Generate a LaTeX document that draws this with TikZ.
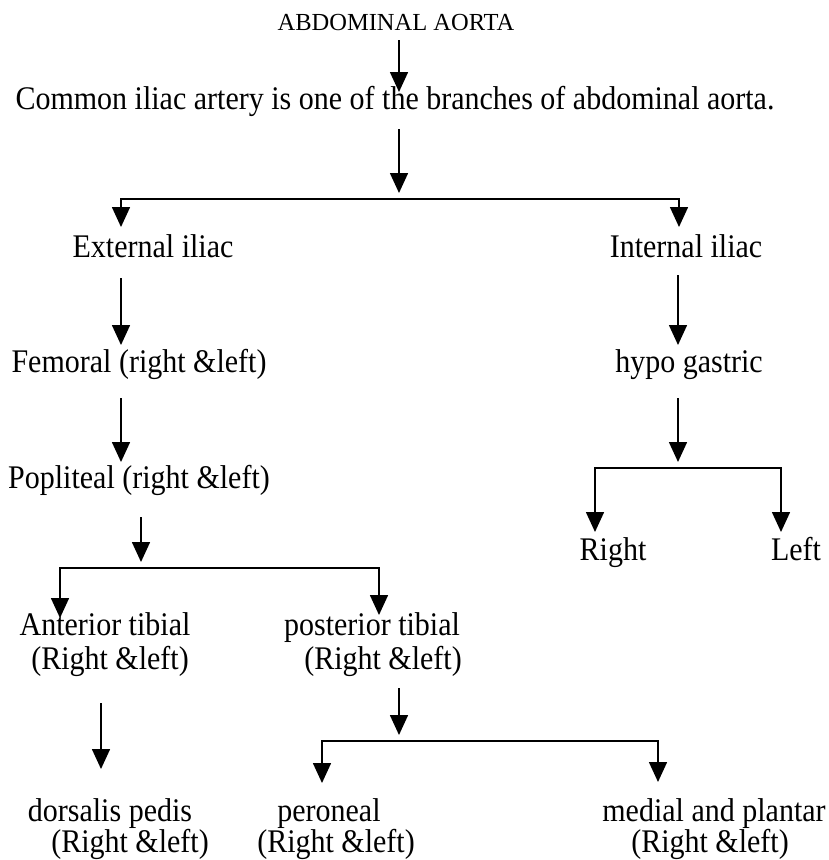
\documentclass[tikz,border=0pt]{standalone}
\usepackage{fontspec}
\setmainfont{Liberation Serif}
\usetikzlibrary{arrows.meta}

\begin{document}
\begin{tikzpicture}[x=1pt,y=-1pt,
    head/.style={anchor=base,inner sep=0pt,font=\fontsize{24.5}{28}\selectfont},
    lbl/.style={anchor=base,inner sep=0pt,font=\fontsize{30}{34}\selectfont,yscale=1.1},
    arr/.style={line width=1.6pt,-{Triangle[width=18pt,length=20pt]}},
    tofork/.style={arr,shorten >=6pt},
    fork/.style={line width=1.6pt,{Triangle[width=18pt,length=20pt]}-{Triangle[width=18pt,length=20pt]}}]
  \useasboundingbox (0,0) rectangle (829,860);

  % labels
  \node[head] (aorta) at (396,30) {ABDOMINAL AORTA};
  \node[lbl] (common) at (395,109) {Common iliac artery is one of the branches of abdominal aorta.};
  \node[lbl] (ext) at (153,257) {External iliac};
  \node[lbl] (int) at (686,257) {Internal iliac};
  \node[lbl] (fem) at (139,372) {Femoral (right \&left)};
  \node[lbl] (hypo) at (689,372) {hypo gastric};
  \node[lbl] (pop) at (139,488) {Popliteal (right \&left)};
  \node[lbl] (right) at (613,560) {Right};
  \node[lbl] (left) at (796,560) {Left};
  \node[lbl] (ant) at (105,635) {Anterior tibial};
  \node[lbl] (ant-rl) at (110,669) {(Right \&left)};
  \node[lbl] (post) at (372,635) {posterior tibial};
  \node[lbl] (post-rl) at (383,669) {(Right \&left)};
  \node[lbl] (dors) at (110,821) {dorsalis pedis};
  \node[lbl] (dors-rl) at (130,852) {(Right \&left)};
  \node[lbl] (per) at (329,821) {peroneal};
  \node[lbl] (per-rl) at (336,852) {(Right \&left)};
  \node[lbl] (med) at (714,821) {medial and plantar};
  \node[lbl] (med-rl) at (710,852) {(Right \&left)};

  % arrow ends and fork points
  \coordinate (aorta-out) at (399,40);
  \coordinate (common-in) at (399,92);
  \coordinate (common-out) at (399,129);
  \coordinate (iliac-fork) at (399,199);
  \coordinate (ext-in) at (121,227);
  \coordinate (int-in) at (679,227);
  \coordinate (ext-out) at (121,278);
  \coordinate (fem-in) at (121,345);
  \coordinate (int-out) at (678,275);
  \coordinate (hypo-in) at (678,345);
  \coordinate (fem-out) at (121,398);
  \coordinate (pop-in) at (121,462);
  \coordinate (hypo-out) at (678,398);
  \coordinate (hypo-fork) at (678,468);
  \coordinate (right-in) at (595,532);
  \coordinate (left-in) at (781,532);
  \coordinate (pop-out) at (141,517);
  \coordinate (pop-fork) at (141,568);
  \coordinate (ant-in) at (60,618);
  \coordinate (post-in) at (379,615);
  \coordinate (ant-out) at (101,703);
  \coordinate (dors-in) at (101,769);
  \coordinate (post-out) at (399,688);
  \coordinate (post-fork) at (399,741);
  \coordinate (per-in) at (322,783);
  \coordinate (med-in) at (658,782);

  % straight links
  \draw[arr] (aorta-out) -- (common-in);
  \draw[arr] (ext-out) -- (fem-in);
  \draw[arr] (int-out) -- (hypo-in);
  \draw[arr] (fem-out) -- (pop-in);
  \draw[arr] (ant-out) -- (dors-in);

  % links into the forks
  \draw[tofork] (common-out) -- (iliac-fork);
  \draw[tofork] (hypo-out) -- (hypo-fork);
  \draw[tofork] (pop-out) -- (pop-fork);
  \draw[tofork] (post-out) -- (post-fork);

  % the forks
  \draw[fork] (ext-in) |- (iliac-fork) -| (int-in);
  \draw[fork] (right-in) |- (hypo-fork) -| (left-in);
  \draw[fork] (ant-in) |- (pop-fork) -| (post-in);
  \draw[fork] (per-in) |- (post-fork) -| (med-in);
\end{tikzpicture}
\end{document}
